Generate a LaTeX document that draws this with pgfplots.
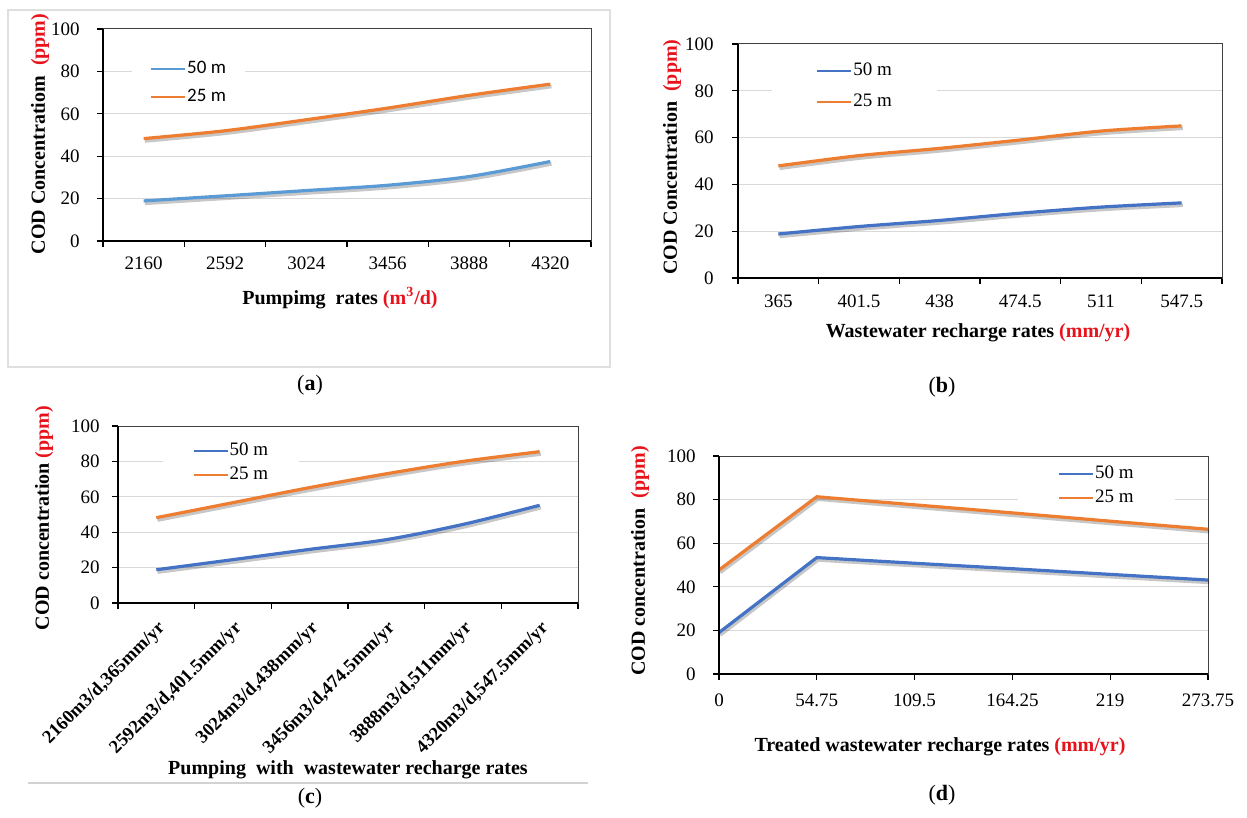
\documentclass[border=0pt]{standalone}
\usepackage{pgfplots}
\usepackage{pgfplotstable}
\pgfplotsset{compat=1.18}
\usepackage{fontspec}
\setmainfont{Liberation Serif}
\newfontfamily\calibri{Carlito}
\definecolor{xorange}{HTML}{ED7D31}
\definecolor{xblue}{HTML}{4472C4}
\definecolor{xlblue}{HTML}{5B9BD5}
\definecolor{xgrid}{HTML}{D9D9D9}
\definecolor{xred}{HTML}{E8121B}

\pgfplotstableread{
x y50 y25
0 18.9 48.3
1 21.3 52.0
2 23.8 57.2
3 26.3 62.7
4 30.4 68.7
5 37.5 74.0
}\dataA
\pgfplotstableread{
x y50 y25
0 18.8 47.9
1 22.0 52.3
2 24.6 55.4
3 27.7 59.0
4 30.3 62.8
5 32.1 65.0
}\dataB
\pgfplotstableread{
x y50 y25
0 18.8 48.2
1 24.5 56.7
2 30.3 65.2
3 35.8 73.0
4 44.4 80.0
5 55.2 85.5
}\dataC
\pgfplotstableread{
x y50 y25
0 19.0 47.7
1 53.4 81.3
2 50.8 77.6
3 48.3 73.9
4 45.7 70.1
5 43.1 66.4
}\dataD

\pgfplotsset{
 panel/.style={
  scale only axis, clip=false, anchor=south west,
  ymin=0, ymax=100, ytick={0,20,...,100},
  ymajorgrids, grid style={xgrid, line width=0.5pt},
  axis line style={black!75, line width=0.5pt},
  tick pos=left, tick align=outside, major tick length=3pt, minor tick length=3pt,
  tick style={black, line width=0.6pt},
  /pgf/number format/assume math mode=true,
  ticklabel style={font=\fontsize{9.5}{11}\selectfont},
  yticklabel style={anchor=east, inner sep=0pt},
  legend cell align=left,
  legend image code/.code={\draw[##1, line width=1pt] (0pt,0pt) -- (17pt,0pt);},
 },
 cat/.style={xmin=-0.5, xmax=5.5, xtick={0,...,5}, minor xtick={-0.5,0.5,...,5.5},
  major x tick style={draw=none}},
 shadow/.style={forget plot, black, opacity=0.22, line width=1.8pt,
  transform canvas={xshift=0.6pt,yshift=-1.2pt}},
 main/.style={line width=1.6pt},
}
\newcommand\boldaxes{\draw[black, line width=0.9pt] (rel axis cs:0,1) -- (rel axis cs:0,0) -- (rel axis cs:1,0);}

\begin{document}
\begin{tikzpicture}
\useasboundingbox (0,0) rectangle (623.5pt,-409pt);

% ---------- (a) ----------
\draw[gray!25, line width=0.6pt] (4pt,-5pt) rectangle (305pt,-183.5pt);
\begin{axis}[panel, cat, at={(51.5pt,-120.5pt)}, width=244pt, height=106pt,
  yticklabel style={xshift=-8.5pt},
  xticklabels={2160,2592,3024,3456,3888,4320},
  xticklabel style={anchor=base}, xticklabel shift=11pt,
  legend style={at={(0.059,0.874)}, anchor=north west, draw=none, fill=white,
    inner xsep=9pt, inner ysep=2pt, row sep=5.2pt,
    font=\calibri\fontsize{9.5}{11}\selectfont, nodes={inner sep=0.5pt}}]
\addplot[shadow, smooth] table[x=x,y=y50]{\dataA};
\addplot[shadow, smooth] table[x=x,y=y25]{\dataA};
\addplot[main, xlblue, smooth] table[x=x,y=y50]{\dataA};
\addlegendentry{50 m}
\addplot[main, xorange, smooth] table[x=x,y=y25]{\dataA};
\addlegendentry{25 m}
\boldaxes
\end{axis}
\node[rotate=90, font=\bfseries\fontsize{10}{12}\selectfont] at (20pt,-67pt)
  {COD Concentratiom\ \ \textcolor{xred}{(ppm)}};
\node[font=\bfseries\fontsize{10}{12}\selectfont] at (170pt,-149pt)
  {Pumpimg\ \ rates \textcolor{xred}{(m\textsuperscript{3}/d)}};
\node[font=\fontsize{11}{13}\selectfont] at (155pt,-192.5pt) {(\textbf{a})};

% ---------- (b) ----------
\begin{axis}[panel, cat, at={(369pt,-139pt)}, width=242pt, height=117pt,
  yticklabel style={xshift=-9pt},
  xticklabels={365,401.5,438,474.5,511,547.5},
  xticklabel style={anchor=base}, xticklabel shift=11.5pt,
  legend style={at={(0.070,0.941)}, anchor=north west, draw=none, fill=white,
    inner xsep=22pt, inner ysep=2pt, row sep=6.7pt,
    font=\fontsize{9.5}{11}\selectfont, nodes={inner sep=0.5pt}}]
\addplot[shadow, smooth] table[x=x,y=y50]{\dataB};
\addplot[shadow, smooth] table[x=x,y=y25]{\dataB};
\addplot[main, xblue, smooth] table[x=x,y=y50]{\dataB};
\addlegendentry{50 m}
\addplot[main, xorange, smooth] table[x=x,y=y25]{\dataB};
\addlegendentry{25 m}
\boldaxes
\end{axis}
\node[rotate=90, font=\bfseries\fontsize{10}{12}\selectfont] at (336pt,-78.5pt)
  {COD Concentration\ \ \textcolor{xred}{(ppm)}};
\node[font=\bfseries\fontsize{10}{12}\selectfont] at (489pt,-166.5pt)
  {Wastewater recharge rates \textcolor{xred}{(mm/yr)}};
\node[font=\fontsize{11}{13}\selectfont] at (471pt,-193.5pt) {(\textbf{b})};

% ---------- (c) ----------
\begin{axis}[panel, cat, at={(59pt,-301.5pt)}, width=230pt, height=88.5pt,
  yticklabel style={xshift=-6pt},
  xticklabels={{2160m3/d,365mm/yr},{2592m3/d,401.5mm/yr},{3024m3/d,438mm/yr},{3456m3/d,474.5mm/yr},{3888m3/d,511mm/yr},{4320m3/d,547.5mm/yr}},
  xticklabel style={rotate=45, anchor=north east, inner sep=0pt,
    font=\bfseries\fontsize{9.3}{10}\selectfont}, xticklabel shift=5pt,
  legend style={at={(0.096,0.934)}, anchor=north west, draw=none, fill=white,
    inner xsep=15pt, inner ysep=2pt, row sep=3.2pt,
    font=\fontsize{9.5}{11}\selectfont, nodes={inner sep=0.5pt}}]
\addplot[shadow, smooth] table[x=x,y=y50]{\dataC};
\addplot[shadow, smooth] table[x=x,y=y25]{\dataC};
\addplot[main, xblue, smooth] table[x=x,y=y50]{\dataC};
\addlegendentry{50 m}
\addplot[main, xorange, smooth] table[x=x,y=y25]{\dataC};
\addlegendentry{25 m}
\boldaxes
\end{axis}
\node[rotate=90, font=\bfseries\fontsize{10}{12}\selectfont] at (22pt,-259pt)
  {COD concentration \textcolor{xred}{(ppm)}};
\node[font=\bfseries\fontsize{10}{12}\selectfont] at (174pt,-385pt)
  {Pumping\ \ with\ \ wastewater recharge rates};
\draw[gray!35, line width=0.6pt] (14pt,-391.5pt) -- (294pt,-391.5pt);
\node[font=\fontsize{11}{13}\selectfont] at (155pt,-399pt) {(\textbf{c})};

% ---------- (d) ----------
\begin{axis}[panel, at={(359.5pt,-337pt)}, width=244.5pt, height=109pt,
  xmin=0, xmax=5, xtick={0,...,5},
  yticklabel style={xshift=-8.5pt},
  xticklabels={0,54.75,109.5,164.25,219,273.75},
  xticklabel style={anchor=base}, xticklabel shift=13pt,
  legend style={at={(0.611,0.965)}, anchor=north west, draw=none, fill=white,
    inner xsep=20pt, inner ysep=0.5pt, row sep=3.2pt,
    font=\fontsize{9.5}{11}\selectfont, nodes={inner sep=0.5pt}}]
\addplot[shadow] table[x=x,y=y50]{\dataD};
\addplot[shadow] table[x=x,y=y25]{\dataD};
\addplot[main, xblue] table[x=x,y=y50]{\dataD};
\addlegendentry{50 m}
\addplot[main, xorange] table[x=x,y=y25]{\dataD};
\addlegendentry{25 m}
\boldaxes
\end{axis}
\node[rotate=90, font=\bfseries\fontsize{10}{12}\selectfont] at (320pt,-280.5pt)
  {COD concentration\ \ \textcolor{xred}{(ppm)}};
\node[font=\bfseries\fontsize{10}{12}\selectfont] at (470pt,-373.5pt)
  {Treated wastewater recharge rates \textcolor{xred}{(mm/yr)}};
\node[font=\fontsize{11}{13}\selectfont] at (471pt,-397.5pt) {(\textbf{d})};
\end{tikzpicture}
\end{document}
